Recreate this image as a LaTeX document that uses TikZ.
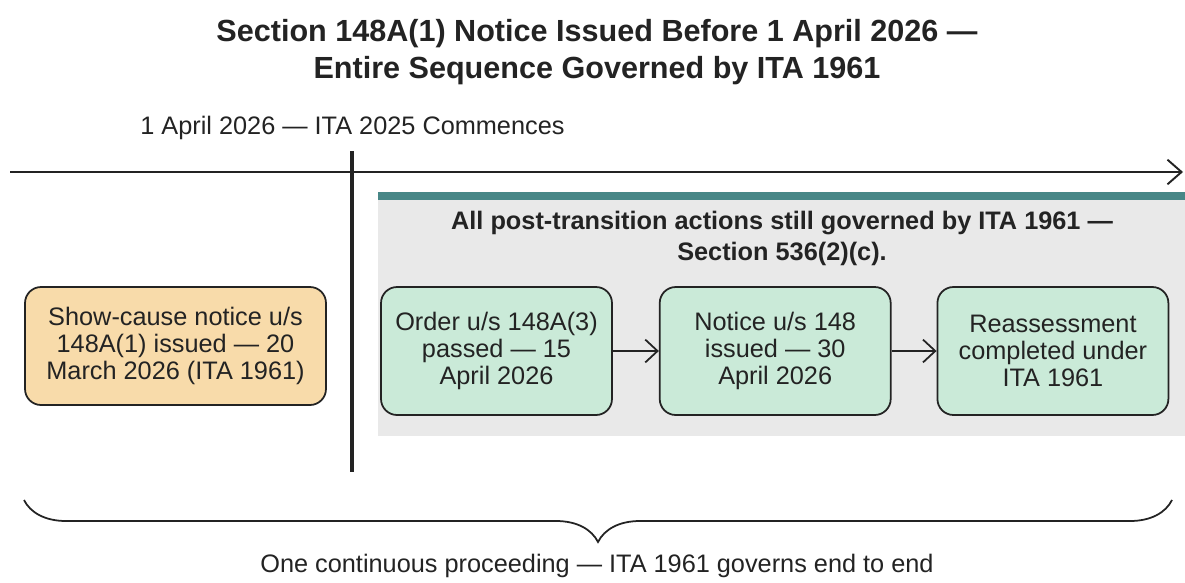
\documentclass[tikz,border=0pt]{standalone}
\usepackage{fontspec}
\setmainfont{Liberation Sans}
\usetikzlibrary{positioning, decorations.pathreplacing, arrows.meta}

\definecolor{tanfill}{RGB}{248,219,170}
\definecolor{mintfill}{RGB}{202,234,216}
\definecolor{greyzone}{RGB}{233,233,233}
\definecolor{tealbar}{RGB}{72,135,135}
\definecolor{inkgrey}{RGB}{35,35,35}

\begin{document}
\begin{tikzpicture}[x=0.02cm, y=-0.02cm,
    stagebox/.style={draw=inkgrey, line width=1pt, rounded corners=0.32cm, align=center,
        font=\fontsize{14.4}{15.4}\selectfont, text=inkgrey, inner sep=2pt},
    prebox/.style={stagebox, fill=tanfill, minimum width=6.02cm, minimum height=2.36cm},
    postbox/.style={stagebox, fill=mintfill, minimum width=4.62cm, minimum height=2.56cm},
    flow/.style={-{Straight Barb[length=7pt, width=13pt]}, draw=inkgrey, line width=1pt}]
        \useasboundingbox[fill=white] (0,0) rectangle (1185,582);
        \node[align=center, text=inkgrey, font=\fontsize{17.4}{21}\selectfont\bfseries] (title) at (597,52)
            {Section 148A(1) Notice Issued Before 1 April 2026 —\\Entire Sequence Governed by ITA 1961};
        \node[anchor=west, text=inkgrey, font=\fontsize{14.4}{16}\selectfont, inner xsep=0pt] (start) at (140,128)
            {1 April 2026 — ITA 2025 Commences};
        \coordinate (tl start) at (10,172);
        \coordinate (tl end) at (1183,172);
        \draw[-{Straight Barb[length=8pt, width=14pt]}, line width=1.1pt, inkgrey] (tl start) -- (tl end);
        \fill[tealbar] (378,192) rectangle (1185,200);
        \fill[greyzone] (378,200) rectangle (1185,436);
        \coordinate (cut top) at (352,151);
        \coordinate (cut bottom) at (352,472);
        \draw[line width=2.4pt, inkgrey] (cut top) -- (cut bottom);
        \node[align=center, text=inkgrey, font=\fontsize{14.4}{17.6}\selectfont\bfseries] (zone) at (782,238)
            {All post-transition actions still governed by ITA 1961 —\\Section 536(2)(c).};
        \node[prebox] (notice) at (175.5,346) {Show-cause notice u/s\\148A(1) issued — 20\\March 2026 (ITA 1961)};
        \node[postbox] (order) at (496.5,351) {Order u/s 148A(3)\\passed — 15\\April 2026};
        \node[postbox, right=0.92cm of order] (reissue) {Notice u/s 148\\issued — 30\\April 2026};
        \node[postbox, right=0.9cm of reissue] (reassess) {Reassessment\\completed under\\ITA 1961};
        \draw[flow] (order) -- (reissue);
        \draw[flow] (reissue) -- (reassess);
        \coordinate (brace left) at (24,500);
        \coordinate (brace right) at (1172,500);
        \draw[decorate, decoration={brace, mirror, amplitude=0.84cm}, line width=1pt, inkgrey] (brace left) -- (brace right);
        \node[text=inkgrey, font=\fontsize{14.4}{16}\selectfont] (whole) at (597,566)
            {One continuous proceeding — ITA 1961 governs end to end};
\end{tikzpicture}
\end{document}
